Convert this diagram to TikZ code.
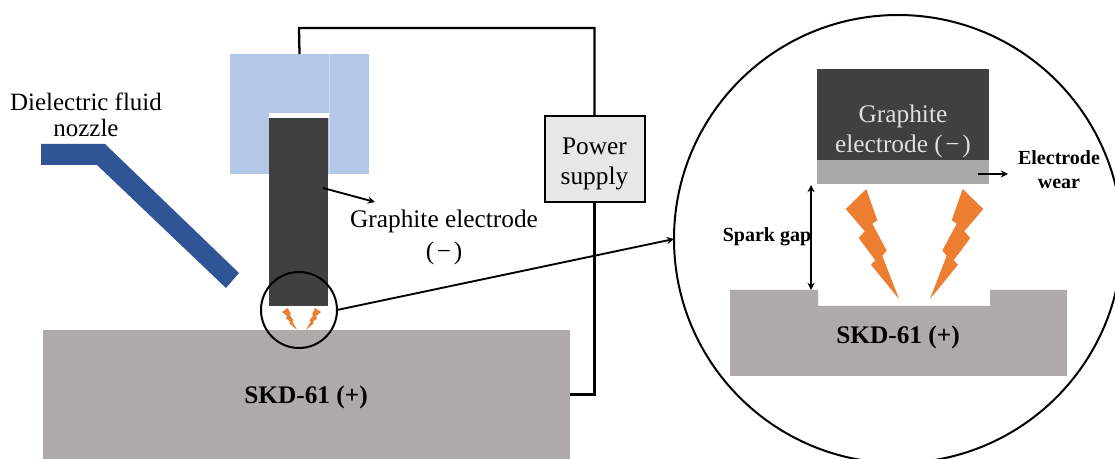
\documentclass[tikz,border=0pt]{standalone}
\usepackage{fontspec}
\setmainfont{Liberation Serif}
\usepackage{xcolor}
\usetikzlibrary{shapes, arrows, positioning, calc}

\definecolor{holderblue}{HTML}{B4C7E7}
\definecolor{nozzleblue}{HTML}{2F5597}
\definecolor{darkgraphite}{HTML}{404040}
\definecolor{wornlayer}{HTML}{A9A9A9}
\definecolor{steelgray}{HTML}{AEAAAA}
\definecolor{sparkorange}{HTML}{ED7D31}
\definecolor{supplygray}{HTML}{E7E7E7}
\newcommand{\px}{0.75pt}
\newcommand{\minusmark}{(\kern2pt−\kern2pt)}

\begin{document}
\begin{tikzpicture}[
        x=\px, y=-\px,
        >=stealth,
        block/.style={rectangle, inner sep=0pt, outer sep=0pt},
        supply/.style={block, draw=black, line width=1.5pt, fill=supplygray},
        lens/.style={circle, draw=black, line width=1.5pt, inner sep=0pt, outer sep=0pt},
        wire/.style={draw=black, line width=1.7pt},
        pointer/.style={->, draw=black, line width=1.4pt},
        label/.style={align=center, inner sep=0pt, font=\fontsize{18.7}{20}\selectfont},
        boldlabel/.style={align=center, inner sep=0pt, font=\fontsize{15}{18}\selectfont\bfseries},
        partlabel/.style={align=center, inner sep=0pt, font=\fontsize{19}{22}\selectfont\bfseries},
        spark/.pic={
            \fill[sparkorange] (-32.7,-110) -- (-21.7,-78.7) -- (-26.7,-75.3) -- (-12.3,-48.3)
                -- (-16.7,-43.3) -- (0,0) -- (-28,-34.3) -- (-23.7,-38.7) -- (-40.3,-61)
                -- (-34.3,-67.7) -- (-53.3,-90) -- cycle;
        }
    ]
        \useasboundingbox (0,0) rectangle (1115,459);
        \clip (0,0) rectangle (1115,459);

        % Left part
        \node[block, fill=steelgray, minimum width=527*\px, minimum height=129*\px] (workpiece) at (306.5,394.5) {};
        \node[block, fill=holderblue, minimum width=139*\px, minimum height=120*\px] (holder) at (299.5,114) {};
        \draw[white!30!holderblue, line width=0.5pt] (329,54) -- (329,174);
        \fill[white] (269,113) rectangle (329,118);
        \node[block, fill=darkgraphite, minimum width=59*\px, minimum height=188*\px] (electrode) at (298.5,212) {};
        \fill[nozzleblue] (41,144) -- (105,144) -- (239,273) -- (226,288) -- (97,165) -- (41,165) -- cycle;

        \node[label] (nozzleText) at (86,115) {Dielectric fluid\\nozzle};
        \node[label, font=\fontsize{19}{24}\selectfont] (electrodeText) at (444,237) {Graphite electrode\\\minusmark};
        \node[partlabel] (workpieceText) at (306,397) {SKD-61 (+)};

        \pic[xscale=0.28, yscale=0.2] at (297,330) {spark};
        \pic[xscale=-0.28, yscale=0.2] at (306,330) {spark};
        \node[lens, minimum size=76*\px] (zoomCircle) at (299,310) {};

        % Power supply
        \node[supply, minimum width=100*\px, minimum height=86*\px] (powerSupply) at (594.5,159) {};
        \node[label, font=\fontsize{19}{23}\selectfont] (powerText) at ($(powerSupply)+(0,5)$) {Power\\supply};
        \coordinate (wireCorner) at (299,28);
        \draw[wire] (holder.north) -- (wireCorner) -| (powerSupply.north);
        \draw[wire] (powerSupply.south) |- (workpiece.east);

        % Detail view
        \node[lens, minimum size=448*\px] (detailCircle) at (898,239) {};
        \node[block, fill=darkgraphite, minimum width=172*\px, minimum height=91*\px] (detailElectrode) at (903,114.5) {};
        \node[label, text=white!88!black, font=\fontsize{19}{23}\selectfont] (detailElectrodeText) at (903,131.5) {Graphite\\electrode \minusmark};
        \node[block, fill=wornlayer, minimum width=172*\px, minimum height=24*\px, below=0pt of detailElectrode] (wearLayer) {};
        \fill[steelgray] (730,290) -- (818,290) -- (818,306) -- (990,306) -- (990,290) -- (1067,290) -- (1067,376) -- (730,376) -- cycle;
        \node[partlabel] (detailWorkText) at (898,337.5) {SKD-61 (+)};
        \pic at (899,299) {spark};
        \pic[xscale=-1] at (930,299) {spark};

        \node[boldlabel] (gapText) at (767,237) {Spark gap};
        \node[boldlabel] (wearText) at (1059,170) {Electrode\\wear};
        \coordinate (gapBottom) at (811,290);
        \coordinate (gapTop) at (811,185);
        \coordinate (wearTip) at (1008,174);
        \coordinate (wearStart) at (978,174);
        \coordinate (pointerStart) at (323,188);
        \coordinate (pointerTip) at (375,202);

        % Arrows
        \draw[<->, draw=black, line width=1.4pt] (gapTop) -- (gapBottom);
        \draw[pointer] (wearStart) -- (wearTip);
        \draw[pointer] (pointerStart) -- (pointerTip);
        \draw[pointer] (zoomCircle.east) -- (detailCircle.west);
    \end{tikzpicture}
\end{document}
